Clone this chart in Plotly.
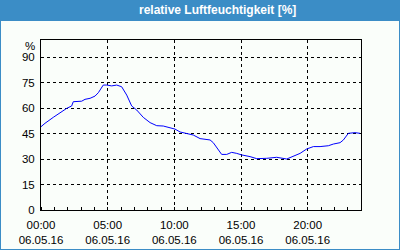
import plotly.graph_objects as go

# hours since 06.05.16 00:00
hours = [0, 0.3, 0.92, 1.55, 1.93, 2.3, 2.42, 3.05, 3.3, 3.68, 4.05, 4.3, 4.67, 4.93,
         5.3, 5.68, 6.05, 6.43, 6.8, 7.18, 7.67, 8.18, 8.68, 9.17, 9.68, 10.05, 10.43,
         10.93, 11.42, 11.93, 12.68, 12.92, 13.3, 13.55, 13.93, 14.3, 14.68, 15.05,
         15.68, 16.18, 16.93, 17.68, 18.43, 18.92, 19.43, 19.93, 20.43, 20.93, 21.55,
         21.93, 22.43, 22.68, 23.05, 23.55, 23.93]
humidity = [49, 51, 54.5, 57.8, 59.8, 61.2, 63.7, 64, 65.1, 65.7, 67, 69, 73.5, 73.5,
            73, 73.5, 72.5, 67.6, 61.2, 58.8, 54.5, 51.4, 49.6, 49.4, 48.4, 47.6, 45.9,
            45.1, 44.1, 42.0, 41.2, 39.6, 35.3, 32.7, 32.7, 33.9, 33.3, 32.4,
            31.4, 30.2, 30.4, 31, 30, 31.8, 33.3, 35.9, 37.3, 37.3, 37.8,
            38.8, 39.6, 41.2, 45.1, 45.5, 45.1]

x_tickvals = [0, 5, 10, 15, 20]
x_ticktext = ["00:00<br>06.05.16", "05:00<br>06.05.16", "10:00<br>06.05.16",
              "15:00<br>06.05.16", "20:00<br>06.05.16"]
y_tickvals = [0, 15, 30, 45, 60, 75, 90]

title = "relative Luftfeuchtigkeit [%]"
unit = "%"

W, H = 400, 250
L, R, T, B = 41, 39, 40, 40
pw, ph = W - L - R, H - T - B

def px(x):
    return (x - L) / pw

def py(y):
    return (H - B - y) / ph

fig = go.Figure()
fig.add_trace(go.Scatter(x=hours, y=humidity, mode="lines",
                         line=dict(color="#0000ff", width=1), hoverinfo="skip"))

bg = "#fafefa"
blue = "#3b8dc6"
fig.update_layout(
    width=W, height=H,
    margin=dict(l=L, r=R, t=T, b=B, autoexpand=False),
    paper_bgcolor=bg, plot_bgcolor=bg,
    showlegend=False,
    font=dict(family="Liberation Sans", size=11.5, color="black"),
    xaxis=dict(range=[0, 24], tickvals=x_tickvals, ticktext=x_ticktext,
               automargin=False,
               showgrid=True, gridcolor="black", griddash="3px,3px", gridwidth=1,
               showline=True, linecolor="black", linewidth=1, mirror=True,
               ticks="", zeroline=False, ticklabelstandoff=4,
               minor=dict(dtick=1, tick0=0, ticks="inside", ticklen=3,
                          tickcolor="black", showgrid=False)),
    yaxis=dict(range=[0, 100], tickvals=y_tickvals, automargin=False,
               showgrid=True, gridcolor="black", griddash="3px,3px", gridwidth=1,
               showline=True, linecolor="black", linewidth=1, mirror=True,
               ticks="", zeroline=False, ticklabelstandoff=3),
    shapes=[
        dict(type="rect", xref="paper", yref="paper", x0=px(0), x1=px(W),
             y0=py(21), y1=py(0), fillcolor=blue, line=dict(width=0), layer="above"),
        dict(type="rect", xref="paper", yref="paper", x0=px(0), x1=px(1),
             y0=py(H), y1=py(0), fillcolor=blue, line=dict(width=0)),
        dict(type="rect", xref="paper", yref="paper", x0=px(W - 1), x1=px(W),
             y0=py(H), y1=py(0), fillcolor=blue, line=dict(width=0)),
        dict(type="rect", xref="paper", yref="paper", x0=px(0), x1=px(W),
             y0=py(H), y1=py(H - 1), fillcolor=blue, line=dict(width=0)),
    ],
    annotations=[
        dict(text="<b>" + title + "</b>", xref="paper", yref="paper",
             x=px(217), y=py(10.5), xanchor="center", yanchor="middle",
             showarrow=False, font=dict(family="Liberation Sans", size=12, color="white")),
        dict(text=unit, xref="paper", yref="paper", x=px(37), y=py(46),
             xanchor="right", yanchor="middle", showarrow=False,
             font=dict(family="Liberation Sans", size=11.5, color="black")),
    ],
)

fig.write_html("out.html", config=dict(displayModeBar=False))
